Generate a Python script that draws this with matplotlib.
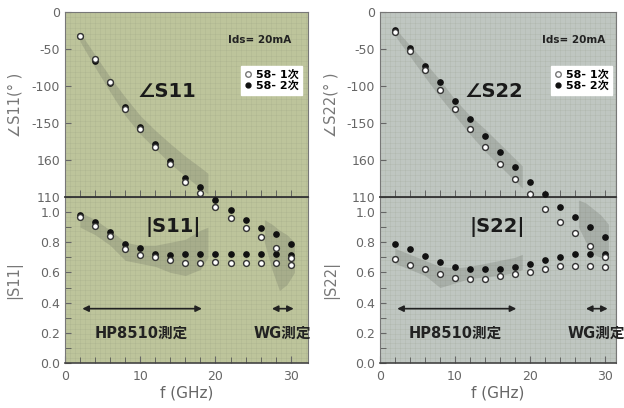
import numpy as np
import matplotlib
matplotlib.use('Agg')
import matplotlib.pyplot as plt

plt.rcParams['font.family'] = ['DejaVu Sans', 'Noto Sans CJK JP']

freq = [2, 4, 6, 8, 10, 12, 14, 16, 18, 20, 22, 24, 26, 28, 30]

# angle of S11 / S22 (deg), points past -250 run down into the |S| panel
s11_ang_1 = [-32, -64, -95, -131, -158, -183, -205, -230, -244, -264, -278, -292, -304, -319, -332]
s11_ang_2 = [-32, -66, -96, -128, -156, -178, -201, -224, -237, -254, -268, -281, -292, -300, -314]
s22_ang_1 = [-27, -53, -78, -105, -131, -158, -182, -205, -226, -246, -266, -284, -299, -316, -331]
s22_ang_2 = [-24, -49, -73, -95, -120, -145, -167, -189, -209, -230, -246, -263, -277, -291, -304]

# magnitude
s11_mag_1 = [0.97, 0.91, 0.84, 0.755, 0.715, 0.70, 0.68, 0.665, 0.665, 0.67, 0.665, 0.665, 0.66, 0.66, 0.65]
s11_mag_2 = [0.98, 0.935, 0.865, 0.79, 0.76, 0.725, 0.715, 0.72, 0.72, 0.72, 0.725, 0.725, 0.725, 0.725, 0.715]
s22_mag_1 = [0.69, 0.65, 0.62, 0.59, 0.565, 0.555, 0.555, 0.575, 0.59, 0.60, 0.625, 0.64, 0.64, 0.64, 0.635]
s22_mag_2 = [0.79, 0.755, 0.71, 0.67, 0.635, 0.62, 0.62, 0.625, 0.635, 0.655, 0.68, 0.70, 0.72, 0.72, 0.72]

# grey traces of the original measured curves
band_f = [2, 4, 6, 8, 10, 12, 14, 16, 18, 19]
s11_ang_band_lo = [-40, -75, -108, -140, -165, -185, -205, -222, -238, -246]
s11_ang_band_hi = [-28, -58, -88, -115, -140, -160, -178, -195, -210, -218]
s22_ang_band_lo = [-32, -60, -88, -115, -140, -165, -188, -208, -228, -238]
s22_ang_band_hi = [-22, -45, -68, -92, -118, -140, -158, -178, -198, -208]
s11_mag_band_lo = [0.90, 0.85, 0.78, 0.68, 0.66, 0.64, 0.60, 0.58, 0.62, 0.70]
s11_mag_band_hi = [1.00, 0.95, 0.88, 0.80, 0.78, 0.78, 0.80, 0.82, 0.88, 0.90]
s22_mag_band_lo = [0.66, 0.62, 0.58, 0.50, 0.53, 0.56, 0.57, 0.58, 0.60, 0.62]
s22_mag_band_hi = [0.76, 0.72, 0.68, 0.64, 0.63, 0.64, 0.66, 0.68, 0.70, 0.72]
wg_f = [26.5, 27.5, 28.5, 29.5, 30.5]
s11_wg_lo = [0.80, 0.62, 0.48, 0.52, 0.60]
s11_wg_hi = [0.95, 0.92, 0.88, 0.85, 0.80]
s22_wg_lo = [0.90, 0.80, 0.72, 0.70, 0.70]
s22_wg_hi = [1.08, 1.06, 1.02, 0.98, 0.92]

hp_range = [2.3, 18.2]
wg_range = [27.5, 30.4]

ang_ticks = [0, -50, -100, -150, -200, -250]
ang_labels = ['0', '-50', '-100', '-150', '160', '110']
mag_ticks = [0.0, 0.2, 0.4, 0.6, 0.8, 1.0]
mag_labels = ['0.0', '0.2', '0.4', '0.6', '0.8', '1.0']


def style_axis(ax, bg):
    ax.set_facecolor(bg)
    for x in np.arange(0, 33, 2 / 3):
        ax.axvline(x, color='#8a9078', lw=0.4, alpha=0.22, zorder=0)
    lo, hi = ax.get_ylim()
    for y in np.linspace(lo, hi, 35):
        ax.axhline(y, color='#8a9078', lw=0.4, alpha=0.22, zorder=0)
    for s in ax.spines.values():
        s.set_color('#777777')
        s.set_linewidth(0.8)
    ax.tick_params(colors='#666666', labelsize=9, direction='in', length=4)
    ax.tick_params(which='minor', direction='in', length=4, color='#555555')


def draw_column(x0, width, bg, ang_1, ang_2, mag_1, mag_2, ang_lo, ang_hi,
                mag_lo, mag_hi, wg_lo, wg_hi, name, xmax, ylab_x):
    ax_b = fig.add_axes([x0, 0.1103, width, 0.4069])
    ax_t = fig.add_axes([x0, 0.5172, width, 0.4534])
    ax_t.set_zorder(2)

    ax_t.set_xlim(0, xmax)
    ax_t.set_ylim(-250, 0)
    ax_b.set_xlim(0, xmax)
    ax_b.set_ylim(0, 1.1)
    style_axis(ax_t, bg)
    style_axis(ax_b, bg)

    ax_t.set_yticks(ang_ticks)
    ax_t.set_yticklabels(ang_labels)
    ax_t.set_xticks([])
    ax_t.set_xticks(np.arange(2, 32, 2), minor=True)
    ax_t.tick_params(axis='x', which='minor', length=5)
    ax_t.spines['bottom'].set_color('#333333')
    ax_t.spines['bottom'].set_linewidth(1.3)

    ax_b.set_yticks(mag_ticks)
    ax_b.set_yticklabels(mag_labels)
    ax_b.set_yticks(np.arange(0.1, 1.1, 0.2), minor=True)
    ax_b.set_xticks([0, 10, 20, 30])
    ax_b.set_xticks(np.arange(2, 32, 2), minor=True)
    ax_b.tick_params(axis='x', which='major', length=5, pad=5)
    ax_b.spines['bottom'].set_color('#444444')
    ax_b.spines['bottom'].set_linewidth(1.2)

    ax_t.fill_between(band_f, ang_lo, ang_hi, color='#5a5e55', alpha=0.22, lw=0, zorder=1)
    ax_b.fill_between(band_f, mag_lo, mag_hi, color='#5a5e55', alpha=0.22, lw=0, zorder=1)
    ax_b.fill_between(wg_f, wg_lo, wg_hi, color='#5a5e55', alpha=0.22, lw=0, zorder=1)

    ax_t.plot(freq, ang_2, 'o', ms=3.8, color='#111111', clip_on=False, zorder=3)
    ax_t.plot(freq, ang_1, 'o', ms=4.2, mfc='white', mec='#333333', mew=1.0, clip_on=False, zorder=4)
    ax_b.plot(freq, mag_2, 'o', ms=3.8, color='#111111', zorder=3)
    ax_b.plot(freq, mag_1, 'o', ms=4.2, mfc='white', mec='#333333', mew=1.0, zorder=4)

    h1, = ax_t.plot([], [], 'o', ms=4, mfc='white', mec='#777777', mew=1.0)
    h2, = ax_t.plot([], [], 'o', ms=3.5, color='#111111')
    leg = ax_t.legend([h1, h2], ['58- 1次', '58- 2次'], loc='upper left',
                      bbox_to_anchor=(0.70, 0.74), fancybox=False, framealpha=1,
                      edgecolor='white', handlelength=0.6, handletextpad=0.4,
                      borderpad=0.35, labelspacing=0.1,
                      prop={'size': 8, 'weight': 'bold'})
    leg.set_zorder(5)

    ax_t.text(21.6, -38, 'Ids= 20mA', fontsize=7.5, fontweight='bold',
              color='#222222', va='center')
    ax_t.text(9.6 if name == '11' else 11.3, -108, '∠S' + name, fontsize=14,
              fontweight='bold', color='#1a1a1a', va='center')
    ax_b.text(14.4 if name == '11' else 15.6, 0.90, '|S' + name + '|', fontsize=14,
              fontweight='bold', color='#1a1a1a', va='center', ha='center')

    ax_b.annotate('', xy=(hp_range[0], 0.36), xytext=(hp_range[1], 0.36),
                  arrowprops=dict(arrowstyle='<|-|>', color='#222222', lw=1.2,
                                  mutation_scale=9, shrinkA=0, shrinkB=0))
    ax_b.annotate('', xy=(wg_range[0], 0.36), xytext=(wg_range[1], 0.36),
                  arrowprops=dict(arrowstyle='<|-|>', color='#222222', lw=1.2,
                                  mutation_scale=9, shrinkA=0, shrinkB=0))
    ax_b.text(10.1, 0.20, 'HP8510測定', fontsize=10.5, fontweight='bold',
              color='#222222', ha='center', va='center')
    ax_b.text(25.0, 0.20, 'WG測定', fontsize=10.5, fontweight='bold',
              color='#222222', ha='left', va='center', clip_on=False)

    ax_t.set_ylabel('∠S' + name + '(° )', fontsize=10.5, color='#777777')
    ax_t.yaxis.set_label_coords(ylab_x, 0.5)
    ax_b.set_ylabel('|S' + name + '|', fontsize=10.5, color='#777777')
    ax_b.yaxis.set_label_coords(ylab_x, 0.5)
    ax_b.set_xlabel('f (GHz)', fontsize=11, color='#666666', labelpad=2)


fig = plt.figure(figsize=(6.24, 4.08), dpi=100)
fig.patch.set_facecolor('white')

draw_column(0.1042, 0.3894, '#bdc49b', s11_ang_1, s11_ang_2, s11_mag_1, s11_mag_2,
            s11_ang_band_lo, s11_ang_band_hi, s11_mag_band_lo, s11_mag_band_hi,
            s11_wg_lo, s11_wg_hi, '11', 32.3, -0.175)
draw_column(0.609, 0.378, '#bfc6c1', s22_ang_1, s22_ang_2, s22_mag_1, s22_mag_2,
            s22_ang_band_lo, s22_ang_band_hi, s22_mag_band_lo, s22_mag_band_hi,
            s22_wg_lo, s22_wg_hi, '22', 31.5, -0.175)

fig.savefig('out.png', dpi=100)
